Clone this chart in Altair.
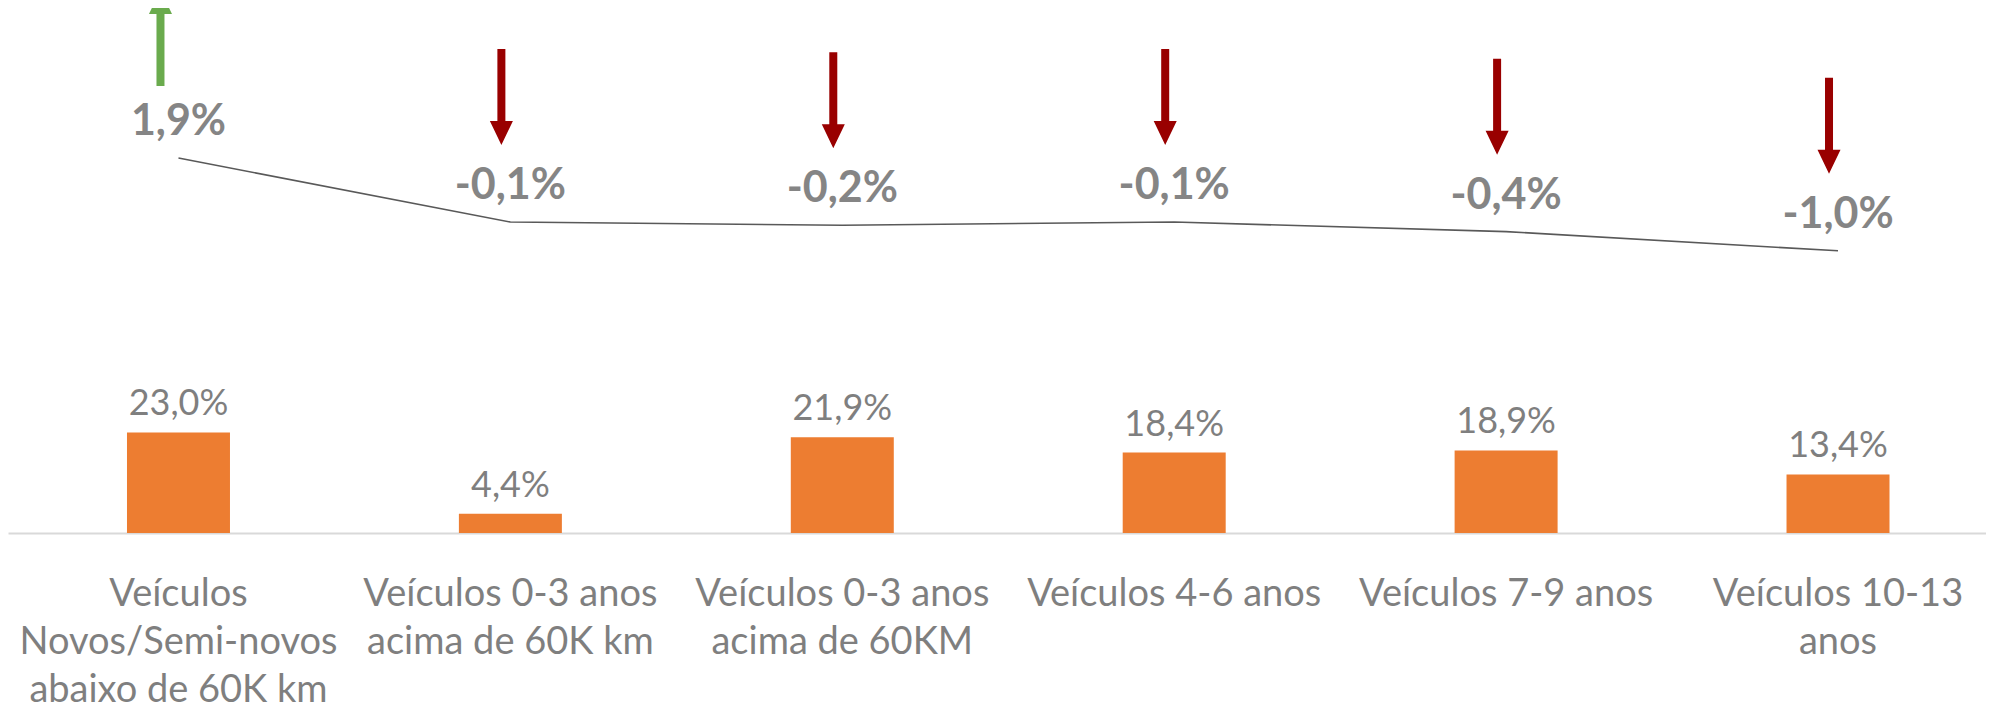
import altair as alt
import pandas as pd

categories = [
    "Veículos|Novos/Semi-novos|abaixo de 60K km",
    "Veículos 0-3 anos|acima de 60K km",
    "Veículos 0-3 anos|acima de 60KM",
    "Veículos 4-6 anos",
    "Veículos 7-9 anos",
    "Veículos 10-13|anos",
]
share = [23.0, 4.4, 21.9, 18.4, 18.9, 13.4]
change = [1.9, -0.1, -0.2, -0.1, -0.4, -1.0]

df = pd.DataFrame({"cat": categories, "share": share, "change": change})

FONT = "Lato"
GRAY = "#7f7f7f"

x_enc = alt.X(
    "cat:N",
    sort=categories,
    scale=alt.Scale(paddingInner=0.6897, paddingOuter=0.3246, align=0.5522),
    axis=alt.Axis(
        title=None,
        labelExpr="split(datum.value, '|')",
        labelAngle=0,
        labelFont=FONT,
        labelFontSize=38,
        labelColor=GRAY,
        labelBaseline="alphabetic",
        labelPadding=72,
        labelLineHeight=48,
        labelLimit=0,
        ticks=False,
        tickSize=0,
        domainColor="#d9d9d9",
        domainWidth=2,
        grid=False,
        labelOverlap=False,
    ),
)

y_share = alt.Y("share:Q", scale=alt.Scale(domain=[0, 120.1], nice=False, zero=False), axis=None)
y_change = alt.Y("change:Q", scale=alt.Scale(domain=[-9.82, 6.59], nice=False, zero=False), axis=None)

base = alt.Chart(df).transform_calculate(
    share_lbl="replace(format(datum.share, '.1f'), '.', ',') + '%'",
    change_lbl="replace(replace(format(datum.change, '.1f'), '.', ','), '\u2212', '-') + '%'",
)

bars = base.mark_bar(color="#ED7D31").encode(x=x_enc, y=y_share)
bar_text = base.mark_text(
    font=FONT, fontSize=36, color=GRAY, baseline="alphabetic", dy=-17
).encode(x=x_enc, y=y_share, text="share_lbl:N")

line = base.mark_line(color="#595959", strokeWidth=1.6).encode(x=x_enc, y=y_change)
line_text = base.mark_text(
    font=FONT, fontSize=43, fontWeight="bold", color="#858585", baseline="alphabetic", dy=-23
).encode(x=x_enc, y=y_change, text="change_lbl:N")

DOWN = "M-0.0833,-1L0.0833,-1L0.0833,0.5L0.24,0.5L0,1L-0.24,0.5L-0.0833,0.5Z"
UP = "M-0.0833,1L0.0833,1L0.0833,-0.5L0.24,-0.5L0,-1L-0.24,-0.5L-0.0833,-0.5Z"

down_arrows = base.transform_filter("datum.change < 0").mark_point(
    shape=DOWN, size=9216, filled=True, opacity=1, color="#990000", strokeWidth=0,
    yOffset=-125, xOffset=-9,
).encode(x=x_enc, y=y_change)
up_arrows = base.transform_filter("datum.change > 0").mark_point(
    shape=UP, size=9216, filled=True, opacity=1, color="#6AAB4D", strokeWidth=0,
    yOffset=-120, xOffset=-18,
).encode(x=x_enc, y=y_change)

chart = alt.layer(
    bars, bar_text, line, line_text, down_arrows, up_arrows
).resolve_scale(y="independent").properties(
    width=1978,
    height=525,
    autosize=alt.AutoSizeParams(type="none"),
    padding={"left": 0, "right": 0, "top": 0, "bottom": 183},
).configure_view(stroke=None)

chart.save("out.html", embed_options={"renderer": "svg", "actions": False})
